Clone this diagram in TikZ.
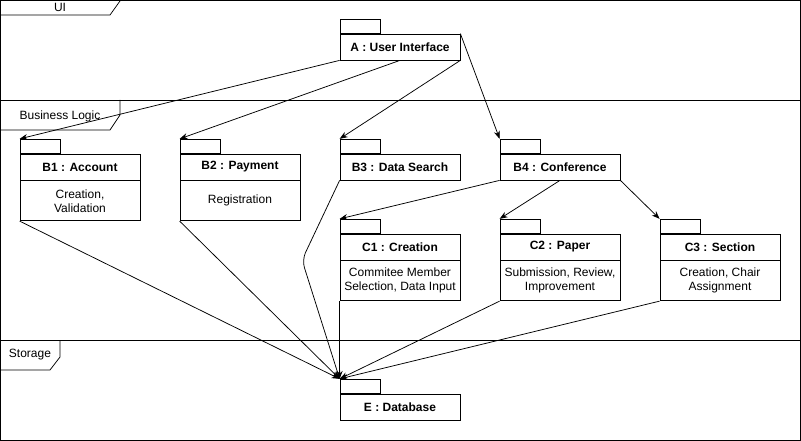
\documentclass[tikz,border=0pt]{standalone}
\usepackage{fontspec}
\setmainfont{Liberation Sans}
\usetikzlibrary{positioning,arrows.meta}

\begin{document}
\begin{tikzpicture}[x=1pt,y=-1pt,line width=0.75pt,font=\fontsize{12}{14}\selectfont,
pkg/.style={draw,minimum width=120,minimum height=26,inner sep=0,font=\fontsize{12}{14}\selectfont\bfseries},
pkgbody/.style={draw,minimum width=120,minimum height=40,inner sep=0,align=center},
pkgtab/.style={draw,minimum width=40,minimum height=14,inner sep=0,anchor=south west},
dep/.style={-{Stealth[length=8pt,width=6pt]}}]
\useasboundingbox (0,0) rectangle (801,441);
\draw (0.5,0.5) rectangle (800,100);
\draw (0.5,100) rectangle (800,340);
\draw (0.5,340) rectangle (800,440);
\draw (0.5,15) -- (110,15) -- (120,1);
\draw (120,100) -- (120,115) -- (110,130) -- (0.5,130);
\draw (60,340) -- (60,357) -- (50,370) -- (0.5,370);
\node (ui) at (60,7) {UI};
\node (bl) at (60,116) {Business Logic};
\node (st) at (30,355) {Storage};

\node[pkg] (A) at (400,47) {A : User Interface};
\node[pkgtab] (At) at (A.north west) {};

\node[pkg] (B1) at (80,167) {B1 : Account};
\node[pkgtab] (B1t) at (B1.north west) {};
\node[pkgbody,below=0pt of B1] (B1b) {Creation,\\Validation};
\node[pkg] (B2) at (240,167) {B2 : Payment};
\node[pkgtab] (B2t) at (B2.north west) {};
\node[pkgbody,below=0pt of B2] (B2b) {Registration};
\node[pkg] (B3) at (400,167) {B3 : Data Search};
\node[pkgtab] (B3t) at (B3.north west) {};
\node[pkg] (B4) at (560,167) {B4 : Conference};
\node[pkgtab] (B4t) at (B4.north west) {};

\node[pkg] (C1) at (400,247) {C1 : Creation};
\node[pkgtab] (C1t) at (C1.north west) {};
\node[pkgbody,below=0pt of C1] (C1b) {Commitee Member\\Selection, Data Input};
\node[pkg] (C2) at (560,247) {C2 : Paper};
\node[pkgtab] (C2t) at (C2.north west) {};
\node[pkgbody,below=0pt of C2] (C2b) {Submission, Review,\\Improvement};
\node[pkg] (C3) at (720,247) {C3 : Section};
\node[pkgtab] (C3t) at (C3.north west) {};
\node[pkgbody,below=0pt of C3] (C3b) {Creation, Chair\\Assignment};

\node[pkg] (E) at (400,407) {E : Database};
\node[pkgtab] (Et) at (E.north west) {};
\coordinate (bend) at (302,260);

\draw[dep] (A.south west) -- (B1t.north west);
\draw[dep] (A.south) -- (B2t.north west);
\draw[dep] (A.south east) -- (B3t.north west);
\draw[dep] (A.north east) -- (B4t.north west);
\draw[dep] (B4.south west) -- (C1t.north west);
\draw[dep] (B4.south) -- (C2t.north west);
\draw[dep] (B4.south east) -- (C3t.north west);
\draw[dep] (B1b.south west) -- (Et.north west);
\draw[dep] (B2b.south west) -- (Et.north west);
\draw[dep,rounded corners=8pt] (B3.south west) -- (bend) -- (Et.north west);
\draw[dep] (C1b.south west) -- (Et.north west);
\draw[dep] (C2b.south west) -- (Et.north west);
\draw[dep] (C3b.south west) -- (Et.north west);
\end{tikzpicture}
\end{document}
